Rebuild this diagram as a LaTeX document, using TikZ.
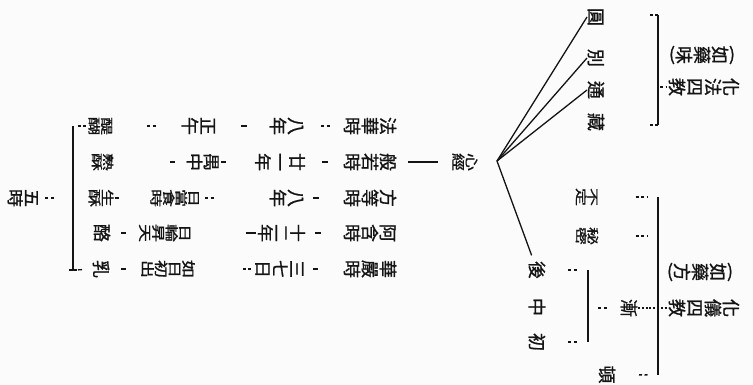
\documentclass[tikz,border=0pt]{standalone}
\usepackage{fontspec}
\usepackage{graphicx}
\newfontfamily\cjkfont{Noto Sans CJK TC}[FakeBold=1.1]
\usetikzlibrary{calc}
\definecolor{ink}{HTML}{141414}
\definecolor{paper}{HTML}{FBFBFB}
\makeatletter
\def\vs@end{vs@end-marker}
\newcommand\vstk[1]{\vbox{\offinterlineskip\vs@loop#1\vs@end}}
\def\vs@loop#1{\ifx\vs@end#1\else\hbox to 1em{\hss\vrule height .88em depth .12em width 0pt\relax #1\hss}\expandafter\vs@loop\fi}
\makeatother
\newcommand\vt[2][1]{\rotatebox{-90}{\scalebox{1}[#1]{\vstk{#2}}}}
\newcommand\pvt[1]{$\vcenter{\hbox{(}}\vcenter{\hbox{\vt{#1}}}\vcenter{\hbox{)}}$}
\tikzset{
  tx/.style={inner sep=0pt, outer sep=0pt, text=ink, font=\cjkfont\fontsize{18}{18}\selectfont},
  ln/.style={draw=ink, line width=1.3pt},
  dd/.style={draw=ink, line width=1.4pt, dash pattern=on 3pt off 2.5pt},
  sd/.style={draw=ink, line width=1.4pt},
  dot/.style={draw=ink, line width=1.2pt, dash pattern=on 2pt off 1.8pt},
}
\begin{document}
\begin{tikzpicture}[x=1pt,y=-1pt]
\useasboundingbox (0,0) rectangle (753,385);
\fill[paper] (0,0) rectangle (753,385);

% ---- five periods table ----
\node[tx] (fh) at (370,126) {\vt{法華時}};
\node[tx] (y1) at (287,126) {\vt{八年}};
\node[tx] (s1) at (199,126) {\vt{正午}};
\node[tx] (w1) at (100.5,126) {\vt[.7]{醍醐}};

\node[tx] (br) at (370,162) {\vt{般若時}};
\node[tx] (y2) at (280,162) {\vt[.95]{廿一年}};
\node[tx] (s2) at (203,162) {\vt[.95]{禺中}};
\node[tx] (w2) at (102.5,162) {\vt[.62]{熟酥}};
\node[tx] (xj) at (465,162) {\vt[.75]{心經}};

\node[tx] (fd) at (370,198) {\vt{方等時}};
\node[tx] (y3) at (287,198) {\vt{八年}};
\node[tx] (s3) at (175,198) {\vt[.7]{日當食時}};
\node[tx] (w3) at (101,198) {\vt[.72]{生酥}};

\node[tx] (ah) at (370,233) {\vt{阿含時}};
\node[tx] (y4) at (281.5,233) {\vt[.9]{十二年}};
\node[tx] (s4) at (165,233) {\vt[.74]{日輪昇天}};
\node[tx] (w4) at (102,233) {\vt{酪}};

\node[tx] (hy) at (370,269) {\vt{華嚴時}};
\node[tx] (y5) at (280,269) {\vt[.95]{三七日}};
\node[tx] (s5) at (168,269) {\vt[.76]{如日初出}};
\node[tx] (w5) at (101,269) {\vt{乳}};

\node[tx] (wushi) at (23.5,198) {\vt[.92]{五時}};

\coordinate (bt) at (73,126);
\coordinate (bb) at (73,270);
\coordinate (bm) at (73,198);
\draw[ln] (bt) -- (bb);
\draw[ln] ($(bb)+(-4,0)$) -- ($(bb)+(4,0)$);

\draw[dd, shorten <=4.5pt, shorten >=1pt] (bt) -- (w1);
\draw[dd, shorten <=34pt, shorten >=24.5pt] (w1) -- (s1);
\draw[sd, shorten <=24pt, shorten >=22pt] (s1) -- (y1);
\draw[dd, shorten <=16pt, shorten >=12.5pt] (y1) -- (fh);

\draw[sd, shorten <=56.3pt, shorten >=10.9pt] (w2) -- (s2);
\draw[sd, shorten <=1pt, shorten >=28.3pt] (s2) -- (y2);
\draw[sd, shorten <=16.3pt, shorten >=15pt] (y2) -- (br);
\draw[ln, shorten <=11pt, shorten >=14pt] (br) -- (xj);

\draw[sd, shorten <=.6pt, shorten >=31.3pt] (w3) -- (s3);
\draw[dd, shorten <=4.8pt, shorten >=55pt] (s3) -- (y3);
\draw[sd, shorten <=8pt, shorten >=24pt] (y3) -- (fd);

\draw[sd, shorten <=10pt, shorten >=12.3pt] (w4) -- (s4);
\draw[sd, shorten <=54.3pt, shorten >=1.2pt] (s4) -- (y4);
\draw[sd, shorten <=9.2pt, shorten >=22pt] (y4) -- (ah);

\draw[sd, shorten <=11pt, shorten >=14.6pt] (w5) -- (s5);
\draw[dd, shorten <=47.6pt, shorten >=2.3pt] (s5) -- (y5);
\draw[sd, shorten <=7.3pt, shorten >=25pt] (y5) -- (hy);

\draw[sd, shorten <=5pt, shorten >=10pt] (bb) -- (w5);
\draw[dd, shorten <=19.5pt, shorten >=3pt] (bm) -- (wushi);

% ---- fan from the Heart Sutra ----
\coordinate (v) at (497,161);
\node[tx] (yuan) at (596,17) {\vt{圓}};
\node[tx] (bie) at (596,58) {\vt{別}};
\node[tx] (tong) at (596,90) {\vt{通}};
\node[tx] (zang) at (596,122) {\vt{藏}};
\node[tx] (hou) at (537,270) {\vt{後}};
\node[tx] (zhong) at (537,307) {\vt{中}};
\node[tx] (chu) at (537,342) {\vt{初}};
\draw[ln] (v) -- (yuan.west);
\draw[ln] (v) -- (bie.west);
\draw[ln] (v) -- (tong.west);
\draw[ln, shorten >=6pt] (v) -- (hou);

% ---- four doctrinal teachings ----
\coordinate (ft) at (658,15);
\coordinate (fb) at (658,125);
\coordinate (fm) at (658,87);
\draw[ln] (ft) -- (fb);
\draw[dd] (ft) -- ++(-10,0);
\draw[dd] (fb) -- ++(-10,0);
\node[tx] (hf) at (704,87) {\vt{化法四教}};
\node[tx] (hfn) at (702,55) {\pvt{如藥味}};
\draw[dd, shorten <=2pt, shorten >=1pt] (fm) -- (hf);

% ---- four methods of teaching ----
\coordinate (it) at (658,197);
\coordinate (ib) at (658,375);
\coordinate (im) at (658,236);
\draw[ln] (it) -- (ib);
\node[tx] (bd) at (587,197) {\vt[.65]{不定}};
\node[tx] (mm) at (587,236) {\vt[.65]{秘密}};
\node[tx] (dun) at (607,374.5) {\vt{頓}};
\node[tx] (jian) at (629,308) {\vt{漸}};
\node[tx] (hy4) at (704,308) {\vt{化儀四教}};
\node[tx] (hyn) at (700,272) {\pvt{如藥方}};
\draw[dd, shorten <=37pt, shorten >=11pt] (bd) -- (it);
\draw[dd, shorten <=37pt, shorten >=11pt] (mm) -- (im);
\draw[dd, shorten <=23pt, shorten >=10pt] (dun) -- (ib);
\draw[dot] (jian) -- (hy4);

\coordinate (st) at (588,270);
\coordinate (sb) at (588,342);
\coordinate (sm) at (588,308);
\draw[ln] (st) -- (sb);
\draw[dd, shorten <=22pt, shorten >=11pt] (hou) -- (st);
\draw[dd, shorten <=22pt, shorten >=11pt] (chu) -- (sb);
\draw[dd, shorten <=10pt, shorten >=13pt] (sm) -- (jian);
\end{tikzpicture}
\end{document}
